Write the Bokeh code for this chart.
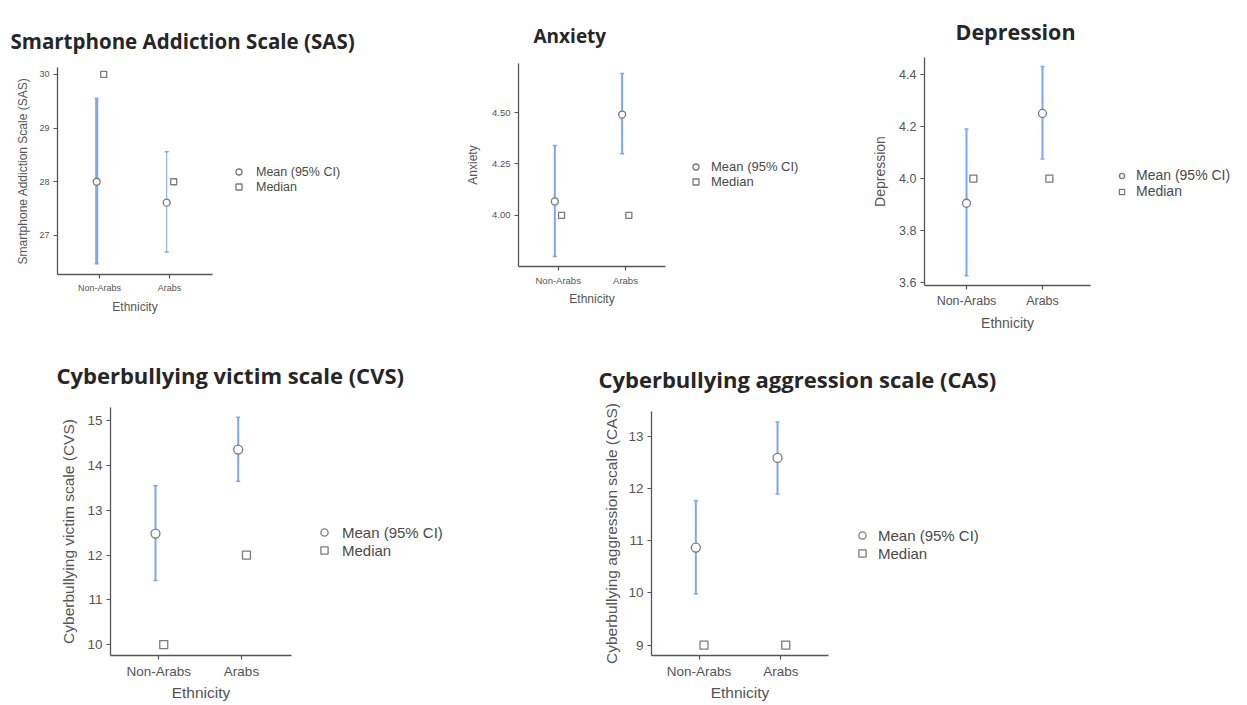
from bokeh.plotting import figure
from bokeh.models import (ColumnDataSource, Range1d, FixedTicker,
                          Legend, LegendItem, NumeralTickFormatter, Title, Spacer)
from bokeh.transform import dodge
from bokeh.layouts import column, row
from bokeh.embed import file_html
from bokeh.resources import INLINE

# ---------------- data ----------------
ethnicity = ["Non-Arabs", "Arabs"]

sas_mean = [28.00, 27.61]
sas_lo = [26.47, 26.69]
sas_hi = [29.55, 28.56]
sas_median = [30.0, 28.0]
sas_ticks = [27, 28, 29, 30]

anx_mean = [4.068, 4.49]
anx_lo = [3.80, 4.30]
anx_hi = [4.34, 4.69]
anx_median = [4.0, 4.0]
anx_ticks = [4.00, 4.25, 4.50]

dep_mean = [3.905, 4.25]
dep_lo = [3.626, 4.075]
dep_hi = [4.19, 4.43]
dep_median = [4.0, 4.0]
dep_ticks = [3.6, 3.8, 4.0, 4.2, 4.4]

cvs_mean = [12.48, 14.36]
cvs_lo = [11.43, 13.65]
cvs_hi = [13.55, 15.08]
cvs_median = [10.0, 12.0]
cvs_ticks = [10, 11, 12, 13, 14, 15]

cas_mean = [10.87, 12.59]
cas_lo = [9.98, 11.90]
cas_hi = [11.77, 13.28]
cas_median = [9.0, 9.0]
cas_ticks = [9, 10, 11, 12, 13]

x_label = "Ethnicity"

BLUE = "#7ba7ee"
MARK = "#7a7a7a"
TXT = "#555555"

cat_pos = [i + 1 for i in range(len(ethnicity))]


def panel(title, ylabel, mean, lo, hi, median, yr, ticks, fmt, geo, fs, leg,
          bar_widths=None, offs=(-0.04, 0.06)):
    # geo: figure width, left border, axis length, px per category, first cat px,
    #      top border, frame height, bottom border
    (W, ml, axlen, unit, c1, mt, fh, mb) = geo
    fw = W - ml
    x0 = 1 - c1 / unit
    p = figure(x_range=Range1d(x0, x0 + fw / unit), y_range=Range1d(*yr),
               width=W, height=mt + fh + mb,
               min_border_left=ml, min_border_right=0,
               min_border_top=mt, min_border_bottom=mb,
               sizing_mode="fixed",
               output_backend="svg", toolbar_location=None,
               background_fill_color="white", border_fill_color="white")
    p.outline_line_color = None
    p.grid.visible = False
    src = ColumnDataSource(dict(x=cat_pos, mean=mean, lo=lo, hi=hi,
                                median=median,
                                bw=bar_widths if bar_widths else [2, 2]))
    xm = dodge("x", offs[0])
    xd = dodge("x", offs[1])
    p.segment(x0=xm, x1=xm, y0="lo", y1="hi", source=src,
              line_color=BLUE, line_width="bw")
    p.scatter(x=xm, y="hi", source=src, marker="dash", size=4,
              line_color=BLUE, line_width=1.5)
    p.scatter(x=xm, y="lo", source=src, marker="dash", size=4,
              line_color=BLUE, line_width=1.5)
    r_mean = p.scatter(x=xm, y="mean", source=src, marker="circle",
                       size=fs["mk"], fill_color="white", line_color=MARK,
                       line_width=1.3)
    r_med = p.scatter(x=xd, y="median", source=src, marker="square",
                      size=fs["mk"] - 1, fill_color="white", line_color=MARK,
                      line_width=1.3)

    # axes
    for ax in (p.xaxis[0], p.yaxis[0]):
        ax.axis_line_color = "#555555"
        ax.axis_line_width = 1.3
        ax.major_tick_line_color = "#555555"
        ax.major_tick_line_width = 1.2
        ax.major_tick_out = 4
        ax.major_tick_in = 0
        ax.minor_tick_line_color = None
        ax.major_label_text_color = TXT
        ax.major_label_text_font = "Liberation Sans"
        ax.major_label_text_font_size = fs["tick"]
        ax.axis_label_text_color = TXT
        ax.axis_label_text_font = "Liberation Sans"
        ax.axis_label_text_font_size = fs["lab"]
        ax.axis_label_text_font_style = "normal"
        ax.major_label_standoff = 4
    p.xaxis.bounds = (x0, x0 + axlen / unit)
    p.xaxis.ticker = FixedTicker(ticks=cat_pos)
    p.xaxis.major_label_overrides = {pos: name for pos, name in zip(cat_pos, ethnicity)}
    p.yaxis.axis_label_standoff = fs["ylas"]
    p.yaxis.axis_label = ylabel
    p.yaxis.ticker = FixedTicker(ticks=ticks)
    p.yaxis.formatter = NumeralTickFormatter(format=fmt)

    # x-axis title, centred under the axis line (the frame is wider than the axis)
    lab_px = float(fs["lab"].replace("px", ""))
    lab_w = 3.779 * lab_px  # width of "Ethnicity" in Arial metrics
    p.add_layout(Title(text=x_label, text_font="Liberation Sans",
                       text_font_style="normal", text_font_size=fs["lab"],
                       text_color=TXT, align="left", vertical_align="top",
                       offset=axlen / 2 - lab_w / 2, standoff=fs["xst"]), "below")

    # plot title
    p.title.text = title
    p.title.text_font = "Open Sans"
    p.title.text_font_style = "bold"
    p.title.text_font_size = fs["title"]
    p.title.text_color = "#262626"
    p.title.align = "left"
    p.title.vertical_align = "top"
    p.title.offset = fs["toff"]
    p.title.standoff = fs["tst"]

    # legend to the right of the axes (inside the wide frame)
    (lx, ly, lh, lstand) = leg
    legend = Legend(items=[LegendItem(label="Mean (95% CI)", renderers=[r_mean]),
                           LegendItem(label="Median", renderers=[r_med])],
                    location=(lx, ly), orientation="vertical",
                    border_line_color=None, background_fill_alpha=0,
                    padding=0, margin=0, spacing=0,
                    glyph_width=lh, glyph_height=lh, label_height=lh,
                    label_standoff=lstand,
                    label_text_font="Liberation Sans",
                    label_text_font_size=fs["leg"],
                    label_text_color="#4a4a4a")
    p.add_layout(legend, "center")
    return p


def shifted(p, dy):
    if dy <= 0:
        return p
    sp = Spacer(width=p.width, height=dy, sizing_mode="fixed")
    return column(sp, p, spacing=0, sizing_mode="fixed",
                  width=p.width, height=dy + p.height)


# top row (height 336): frame tops at 67, 63, 57
T1 = 57
f1 = panel("Smartphone Addiction Scale (SAS)", "Smartphone Addiction Scale (SAS)",
           sas_mean, sas_lo, sas_hi, sas_median, (26.27, 30.13), sas_ticks, "0",
           (440, 57, 155, 70, 42, T1, 207, 62),
           dict(tick="9px", lab="12px", leg="12.5px", title="20.5px", toff=-47,
                tst=22, xst=8, ylas=6, mk=7),
           (174, 80, 15, 10), bar_widths=[3, 1])
f2 = panel("Anxiety", "Anxiety",
           anx_mean, anx_lo, anx_hi, anx_median, (3.752, 4.738), anx_ticks, "0.00",
           (420, 78, 147, 67.3, 39.7, T1, 203, 70),
           dict(tick="9.5px", lab="12px", leg="13px", title="19px", toff=15,
                tst=26, xst=6, ylas=9, mk=7),
           (170, 77, 15, 8), offs=(-0.05, 0.05))
f3 = panel("Depression", "Depression",
           dep_mean, dep_lo, dep_hi, dep_median, (3.589, 4.465), dep_ticks, "0.0",
           (380, 64, 166, 76, 42, T1, 230, 49),
           dict(tick="12.5px", lab="14px", leg="14px", title="21.5px", toff=31,
                tst=20, xst=8, ylas=8, mk=8),
           (191, 86, 13, 8), offs=(0.0, 0.09))

# bottom row (starts at 336, height 368): frame tops at 407, 411
T2 = 70
f4 = panel("Cyberbullying victim scale (CVS)", "Cyberbullying victim scale (CVS)",
           cvs_mean, cvs_lo, cvs_hi, cvs_median, (9.755, 15.30), cvs_ticks, "0",
           (580, 110, 181, 82.7, 48.3, T2, 248, 49),
           dict(tick="13.5px", lab="15.5px", leg="15px", title="22px", toff=-54,
                tst=32, xst=4, ylas=7, mk=9),
           (205, 96, 18, 9))
f5 = panel("Cyberbullying aggression scale (CAS)", "Cyberbullying aggression scale (CAS)",
           cas_mean, cas_lo, cas_hi, cas_median, (8.80, 13.48), cas_ticks, "0",
           (660, 71, 177, 81.7, 47.6, T2, 244, 49),
           dict(tick="13.5px", lab="15.5px", leg="15px", title="22px", toff=-53,
                tst=32, xst=4, ylas=5, mk=9),
           (202, 93, 18, 7))

top = row(shifted(f1, 10), shifted(f2, 6), shifted(f3, 0), spacing=0)
bottom = row(shifted(f4, 1), shifted(f5, 5), spacing=0)
layout = column(top, bottom, spacing=0)
open("out.html", "w").write(file_html(layout, INLINE))
